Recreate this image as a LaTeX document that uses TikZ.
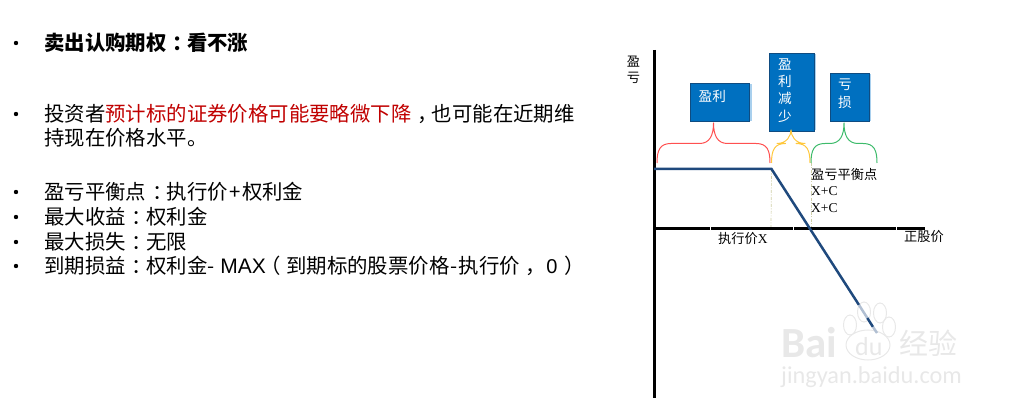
\documentclass[tikz,border=0pt]{standalone}
\usepackage{fontspec}
\setmainfont{Liberation Serif}
\newfontfamily\cjk{Noto Sans CJK SC}
\newfontfamily\lat{Carlito}
\newfontfamily\arial{Liberation Sans}
\definecolor{boxblue}{HTML}{0070C0}
\definecolor{boxedge}{HTML}{0F4C81}
\definecolor{boxshade}{HTML}{A9D0EE}
\definecolor{payoff}{HTML}{1F497D}
\definecolor{redtext}{HTML}{C00000}
\definecolor{guidecol}{HTML}{CFCFA8}
\definecolor{bred}{HTML}{FF5050}
\definecolor{byellow}{HTML}{FFC83D}
\definecolor{bgreen}{HTML}{3DBB6B}
\definecolor{wmgray}{HTML}{E8E8E8}
\newcommand{\zc}{\hspace{0.3em}：\hspace{-0.3em}}
\newcommand{\zk}{\hspace{0.3em}，\hspace{-0.3em}}
\newcommand{\zl}{\hspace{-0.25em}（\hspace{0.25em}}
\newcommand{\zr}{\hspace{0.3em}）\hspace{-0.3em}}
\tikzset{
  x=1pt,y=-1pt,
  bodytext/.style={anchor=west,inner sep=0pt,font=\fontsize{20.4}{22}\cjk,text=black},
  dotmark/.style={circle,fill=black,inner sep=0pt,minimum size=4.4pt},
  bluebox/.style={anchor=north west,inner sep=0pt,fill=boxblue,draw=boxedge,line width=0.6pt},
  boxtext/.style={inner sep=0pt,text=white,align=center,font=\fontsize{13.6}{17.2}\cjk},
  smalltext/.style={inner sep=0pt,font=\fontsize{13.2}{16}\cjk,text=black},
  axisline/.style={line width=3pt,black},
  gapmark/.style={white,line width=1pt},
  guideline/.style={guidecol,line width=0.7pt,dash pattern=on 3pt off 1.5pt on 1pt off 1.5pt},
  bracea/.style={line width=1pt,line join=round},
  payoffline/.style={payoff,line width=2.5pt},
  wmtext/.style={inner sep=0pt,text=wmgray,anchor=west},
  wmpaw/.style={draw=wmgray,line width=1pt}
}
\newcommand{\curlybrace}[6]{%
  \draw[bracea,#1] (#2,163) .. controls (#2,150) and (#2+3,#6) .. (#2+14,#6)
    -- (#4-14,#6) .. controls (#4-4,#6) and (#4,#6-8) .. (#4,#5)
    .. controls (#4,#6-8) and (#4+4,#6) .. (#4+14,#6)
    -- (#3-14,#6) .. controls (#3-3,#6) and (#3,150) .. (#3,163);
}
\begin{document}
\begin{tikzpicture}
\useasboundingbox (0,0) rectangle (1019,411);
% watermark
\node[wmtext,font=\fontsize{43}{44}\lat\bfseries] (wm1) at (781,343) {Bai};
\node[wmtext,font=\fontsize{26}{28}\lat] (wm2) at (855,347) {du};
\node[wmtext,font=\fontsize{29}{30}\cjk] (wm3) at (899,343) {经验};
\node[wmtext,font=\fontsize{24.3}{26}\lat] (wm4) at (781,377) {jingyan.baidu.com};
\draw[wmpaw] (868,345) ellipse [x radius=22,y radius=15];
\draw[wmpaw] (850,325) ellipse [x radius=6.5,y radius=10];
\draw[wmpaw] (864,312) ellipse [x radius=6.5,y radius=10];
\draw[wmpaw] (880,313) ellipse [x radius=6.5,y radius=10];
\draw[wmpaw] (889,327) ellipse [x radius=6.5,y radius=10];
% bullets
\foreach \n/\yy in {a/43,b/114,c/192,d/217,e/242,f/266}
  \node[dotmark] (dot\n) at (16,\yy) {};
% text
\node[bodytext,font=\fontsize{20.4}{22}\cjk\bfseries] (title) at (44,43) {卖出认购期权\zc 看不涨};
\node[bodytext] (view) at (44,114) {投资者\textcolor{redtext}{预计标的证券价格可能要略微下降}\zk 也可能在近期维};
\node[bodytext] (view2) at (44,138) {持现在价格水平。};
\node[bodytext] (be) at (44,192) {盈亏平衡点\zc 执行价\hspace{1.5pt}+\hspace{1.5pt}权利金};
\node[bodytext] (maxg) at (44,217) {最大收益\zc 权利金};
\node[bodytext] (maxl) at (44,242) {最大损失\zc 无限};
\node[bodytext] (exp) at (44,266) {到期损益\zc 权利金-\hspace{6pt}{\arial\fontsize{21}{22}\selectfont MAX}\zl 到期标的股票价格\hspace{1pt}-\hspace{1pt}执行价\hspace{0.3em}，{\arial\fontsize{20}{22}\selectfont 0}\hspace{1pt}\zr};
% axes
\coordinate (o) at (654.5,228.5);
\coordinate (ytop) at (654.5,50);
\coordinate (ybot) at (654.5,398);
\coordinate (xend) at (925,228.5);
\coordinate (kink) at (771.5,169);
\coordinate (flat) at (654,169);
\coordinate (fa) at (859,305);
\coordinate (fb) at (867.3,318);
\coordinate (fc) at (873,327);
\coordinate (end) at (877,333);
\coordinate (kx) at (771,228);
\coordinate (bt) at (811,163);
\coordinate (bx) at (811,228);
\draw[guideline] (kink) -- (kx);
\draw[guideline] (bt) -- (bx);
\draw[axisline] (ytop) -- (ybot);
\draw[axisline] (o) -- (xend);
\foreach \g in {710,793.5,896.5} \draw[gapmark] (\g,226) -- (\g,231);
\draw[payoffline] (flat) -- (kink) -- (fa);
\draw[payoffline,payoff!35] (fa) -- (fb);
\draw[payoffline] (fb) -- (fc);
\draw[payoffline,payoff!35] (fc) -- (end);
% boxes
\fill[boxshade] (749,84) rectangle (751.5,121);
\fill[boxshade] (814,54) rectangle (816,130.5);
\fill[boxshade] (869,74) rectangle (871,121);
\node[bluebox,minimum width=59pt,minimum height=37.4pt] (b1) at (690.3,83.3) {};
\node[bluebox,minimum width=45pt,minimum height=77.4pt] (b2) at (769,53.3) {};
\node[bluebox,minimum width=39pt,minimum height=47.4pt] (b3) at (830,73.3) {};
\node[boxtext] (t1) at (712.3,96) {盈利};
\node[boxtext] (t2) at (785,90.5) {盈\\利\\减\\少};
\node[boxtext,font=\fontsize{13.6}{18}\cjk] (t3) at (845,94) {亏\\损};
% braces
\curlybrace{bred}{657}{770}{713.5}{123}{143.5}
\curlybrace{byellow}{771.5}{810}{791}{130}{143.5}
\curlybrace{bgreen}{811}{877}{844}{123}{143.5}
% labels
\node[smalltext,align=center] (yl) at (633.5,69.5) {盈\\亏};
\node[smalltext,anchor=west] (bep) at (811,174.5) {盈亏平衡点};
\node[smalltext,anchor=west,font=\fontsize{13.5}{15}\rmfamily] (xc1) at (811,191.5) {X+C};
\node[smalltext,anchor=west,font=\fontsize{13.5}{15}\rmfamily] (xc2) at (811,208) {X+C};
\node[smalltext,anchor=west] (strike) at (718,239) {执行价{\fontsize{13.5}{15}\rmfamily X}};
\node[smalltext,anchor=west] (spot) at (904,237) {正股价};
\end{tikzpicture}
\end{document}
